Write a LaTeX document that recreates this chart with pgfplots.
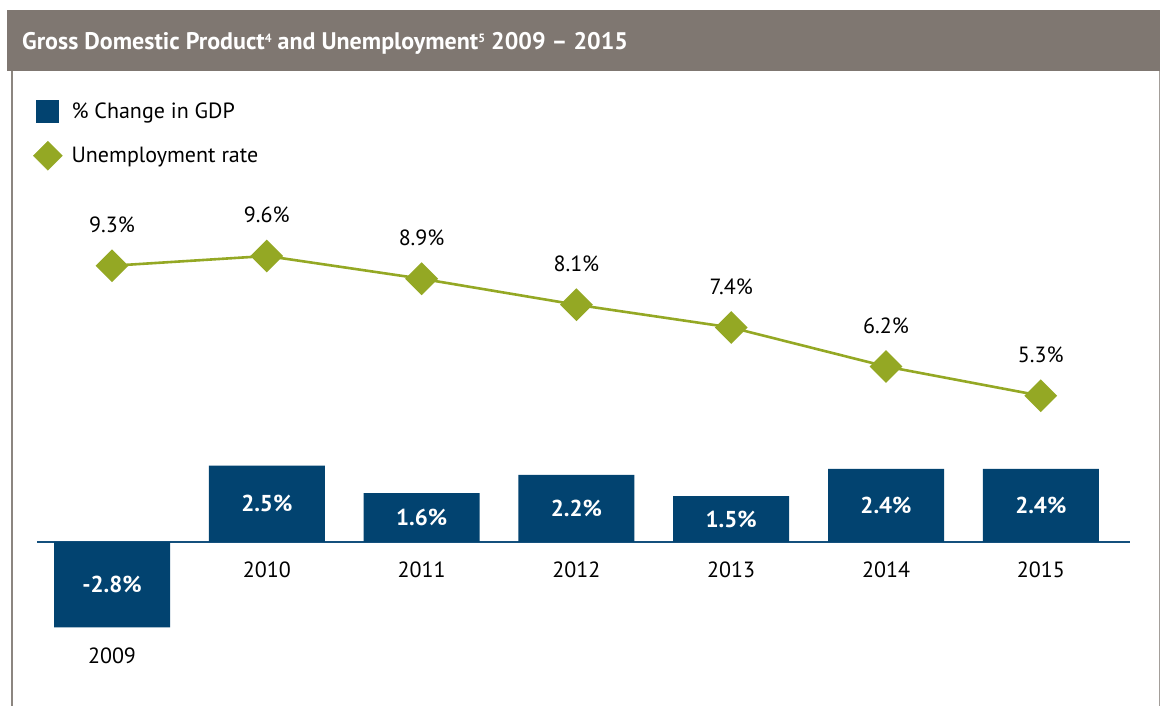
\documentclass[border=0pt]{standalone}
\usepackage{pgfplots}
\pgfplotsset{compat=1.18}
\usepackage{pgfplotstable}
\usepackage{fontspec}
\setmainfont{PT Sans}
\definecolor{gdpblue}{RGB}{2,67,112}
\definecolor{axisblue}{RGB}{20,80,125}
\definecolor{unemp}{RGB}{148,168,36}
\definecolor{header}{RGB}{127,119,113}
\definecolor{border}{RGB}{140,134,128}

\pgfplotstableread{
x gdp unemp year
0 -2.8 9.3 2009
1 2.5 9.6 2010
2 1.6 8.9 2011
3 2.2 8.1 2012
4 1.5 7.4 2013
5 2.4 6.2 2014
6 2.4 5.3 2015
}\data

\begin{document}
\begin{tikzpicture}[x=1pt,y=1pt]
\fill[white] (0,0) rectangle (1160,706);
\fill[header] (7,635.3) rectangle (1160,696);
\draw[border, line width=2pt] (11.5,0) -- (11.5,635.3);
\draw[border!80, line width=1.2pt] (1159.3,0) -- (1159.3,635.3);
\node[anchor=west, text=white, font=\fontsize{24}{28}\selectfont\bfseries, inner sep=0pt] at (22,663)
  {Gross Domestic Product{\fontsize{12}{13}\selectfont\raisebox{7pt}{4}} and Unemployment{\fontsize{12}{13}\selectfont\raisebox{7pt}{5}} 2009 -- 2015};

\pgfplotsset{base/.style={
  scale only axis, width=1093pt, height=460pt, at={(37pt,46pt)}, anchor=south west,
  xmin=-0.4845, xmax=6.576, hide axis, clip=false,
  /pgf/number format/assume math mode=true,
  font=\fontsize{22}{26}\selectfont}}

\begin{axis}[base, ymin=-3.869, ymax=11.213,
  legend style={at={(-0.0064,1.222)}, anchor=north west, draw=none, fill=none,
    font=\fontsize{22}{26}\selectfont, row sep=18pt, column sep=9pt,
    nodes={inner sep=0pt}},
  legend cell align=left]
\draw[axisblue, line width=2.5pt] (axis cs:-0.4845,0) -- (axis cs:6.576,0);
\addplot[ybar, bar width=116pt, fill=gdpblue, draw=none, bar shift=0pt,
  legend image code/.code={\fill[gdpblue] (-11.5pt,-11.5pt) rectangle (11.5pt,11.5pt);}]
  table[x=x, y=gdp] {\data};
\addlegendentry{\% Change in GDP}
\addlegendimage{legend image code/.code={\fill[unemp] (0,14.5pt) -- (14.5pt,0) -- (0,-14.5pt) -- (-14.5pt,0) -- cycle;}}
\addlegendentry{Unemployment rate}
% value labels inside bars
\addplot[draw=none, mark=none, forget plot, point meta=\thisrow{gdp},
  nodes near coords={\pgfmathprintnumber[fixed,fixed zerofill,precision=1]{\pgfplotspointmeta}\%},
  every node near coord/.style={anchor=center, text=white, font=\fontsize{23}{27}\selectfont\bfseries}]
  table[x=x, y expr={\thisrow{gdp}/2}] {\data};
% year labels
\addplot[draw=none, mark=none, forget plot, point meta=explicit symbolic,
  nodes near coords={\pgfplotspointmeta},
  every node near coord/.style={anchor=north, inner sep=0pt, yshift=-20pt, text=black}]
  table[x=x, y expr={min(\thisrow{gdp},0)}, meta=year] {\data};
\end{axis}

\begin{axis}[base, ymin=-2.831, ymax=11.323]
\addplot[unemp, line width=2.6pt, mark=square*, mark size=10.3pt,
  mark options={rotate=45, fill=unemp, draw=none},
  point meta=\thisrow{unemp},
  nodes near coords={\pgfmathprintnumber[fixed,fixed zerofill,precision=1]{\pgfplotspointmeta}\%},
  every node near coord/.style={anchor=center, yshift=41pt, text=black}]
  table[x=x, y=unemp] {\data};
\end{axis}
\end{tikzpicture}
\end{document}
